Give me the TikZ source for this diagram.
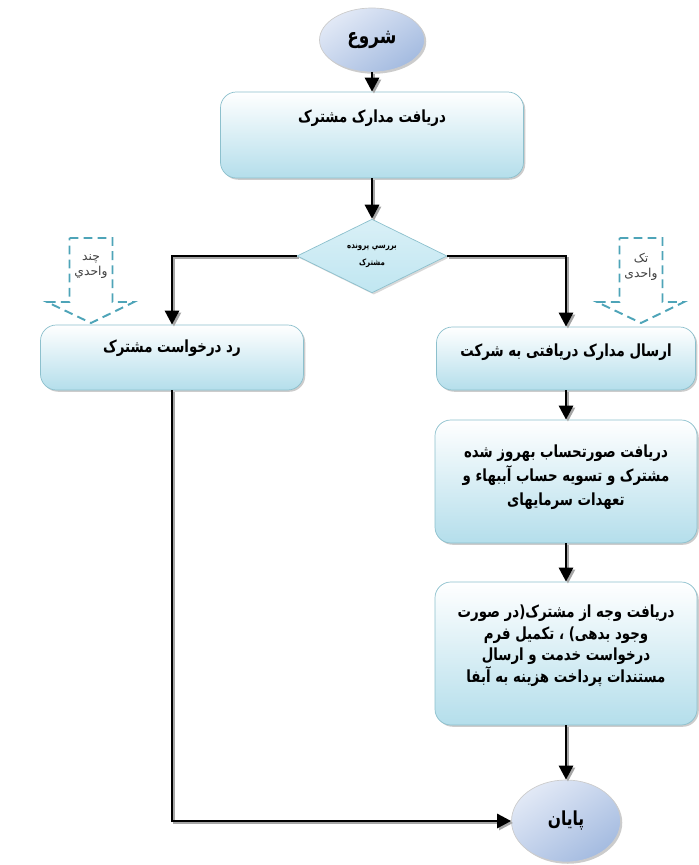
\documentclass[tikz,border=0pt]{standalone}
\usepackage{fontspec}
\newfontfamily\arabicfont[Script=Arabic,FakeStretch=0.8]{DejaVu Sans}
\newfontfamily\arabicplain[Script=Arabic]{DejaVu Sans}
\TeXXeTstate=1
\usetikzlibrary{arrows.meta,shapes.geometric,shadows,calc}
\definecolor{boxcyan}{RGB}{180,222,235}
\definecolor{boxedge}{RGB}{140,192,205}
\definecolor{ovaltop}{RGB}{226,233,246}
\definecolor{ovalblue}{RGB}{164,187,224}
\definecolor{diamcyan}{RGB}{192,230,241}
\definecolor{dashteal}{RGB}{78,164,184}
\newcommand{\fatext}[1]{{\arabicfont\beginR #1\endR}}
\newcommand{\faplain}[1]{{\arabicplain\beginR #1\endR}}

\begin{document}
\begin{tikzpicture}[
  flowbox/.style={rectangle,rounded corners=9pt,draw=boxedge,thin,
    top color=white,bottom color=boxcyan,
    drop shadow={shadow xshift=1pt,shadow yshift=-1pt,fill=black!40}},
  oval/.style={ellipse,draw=black!20,thin,top color=ovaltop,bottom color=ovalblue,
    shading angle=35,inner sep=0pt,
    drop shadow={shadow xshift=1pt,shadow yshift=-1pt,fill=black!40}},
  decision/.style={diamond,draw=boxedge,thin,top color=diamcyan!60,bottom color=diamcyan,
    inner sep=0pt,align=center,drop shadow={shadow xshift=1pt,shadow yshift=-1pt,fill=black!30}},
  boxtext/.style={align=center,font=\bfseries\fontsize{9.5}{13.5}\selectfont},
  hinttext/.style={align=center,text=black!75,font=\fontsize{7}{8.5}\selectfont},
  hint/.style={draw=dashteal,line width=1.1pt,dash pattern=on 5pt off 3pt},
  flow/.style={line width=1.6pt,-{Triangle[length=8pt,width=8pt]},
    preaction={draw=black!35,line width=1.6pt,transform canvas={xshift=1.1pt,yshift=-1.1pt}}}
]
  \useasboundingbox (0,0) rectangle (13.98,-17.3);

  % main column
  \node[oval,minimum width=2.1cm,minimum height=1.28cm] (start) at (7.44,-0.8)
    {\fontsize{12}{14}\selectfont\bfseries\fatext{شروع}};
  \node[flowbox,minimum width=6.06cm,minimum height=1.72cm] (recv) at (7.44,-2.7) {};
  \node[boxtext] (recvtxt) at ([yshift=-0.53cm]recv.north) {\fatext{دریافت مدارک مشترک}};
  \node[decision,minimum width=3cm,minimum height=1.34cm,
    font=\bfseries\fontsize{5}{10}\selectfont] (check) at (7.44,-5.12)
    {\fatext{بررسي پرونده}\\\fatext{مشترک}};

  % left branch
  \node[flowbox,minimum width=5.26cm,minimum height=1.3cm] (reject) at (3.44,-7.15) {};
  \node[boxtext] (rejecttxt) at ([yshift=-0.48cm]reject.north) {\fatext{رد درخواست مشترک}};

  % right branch
  \node[flowbox,minimum width=5.18cm,minimum height=1.26cm] (send) at (11.32,-7.17) {};
  \node[boxtext] (sendtxt) at ([yshift=-0.52cm]send.north) {\fatext{ارسال مدارک دریافتی به شرکت}};
  \node[flowbox,minimum width=5.24cm,minimum height=2.46cm] (bill) at (11.32,-9.63) {};
  \node[boxtext] (billtxt) at ([yshift=0.09cm]bill.center)
    {\fatext{دریافت صورتحساب بهروز شده}\\\fatext{مشترک و تسویه حساب آببهاء و}\\\fatext{تعهدات سرمایهای}};
  \node[flowbox,minimum width=5.24cm,minimum height=2.86cm] (pay) at (11.32,-13.07) {};
  \node[boxtext,font=\bfseries\fontsize{9.5}{12.3}\selectfont] (paytxt) at ([yshift=0.16cm]pay.center)
    {\fatext{دریافت وجه از مشترک(در صورت}\\\fatext{وجود بدهی) ، تکمیل فرم}\\\fatext{درخواست خدمت  و ارسال}\\\fatext{مستندات پرداخت هزینه به آبفا}};
  \node[oval,minimum width=2.18cm,minimum height=1.64cm] (end) at (11.32,-16.42)
    {\fontsize{11}{13}\selectfont\bfseries\fatext{پایان}};

  % dashed hint arrows
  \foreach \cx in {1.82,12.82}{
    \draw[hint] ({\cx-0.43},-4.76) -- ({\cx+0.43},-4.76) -- ({\cx+0.43},-6.04)
      -- ({\cx+0.86},-6.04) -- (\cx,-6.46) -- ({\cx-0.88},-6.04)
      -- ({\cx-0.43},-6.04) -- cycle;
  }
  \node[hinttext] (multitxt) at (1.82,-5.33) {\faplain{چند}\\\faplain{واحدي}};
  \node[hinttext] (singletxt) at (12.82,-5.33) {\faplain{تک}\\\faplain{واحدی}};

  % connectors
  \draw[flow] (start) -- (recv);
  \draw[flow] (recv) -- (check);
  \draw[flow] (check.west) -| (reject.north);
  \draw[flow] (check.east) -| (send.north);
  \draw[flow] (send) -- (bill);
  \draw[flow] (bill) -- (pay);
  \draw[flow] (pay) -- (end);
  \draw[flow] (reject) |- (end);
\end{tikzpicture}
\end{document}
